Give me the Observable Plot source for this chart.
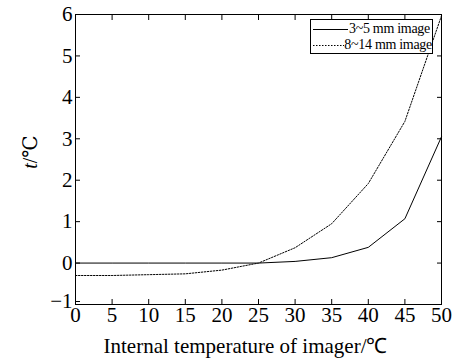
<!DOCTYPE html>
<html><head><meta charset="utf-8">
<script src="https://cdn.jsdelivr.net/npm/d3@7"></script>
<script src="https://cdn.jsdelivr.net/npm/@observablehq/plot@0.6"></script>
<style>
body{margin:0;background:#fff;}
#wrap{position:relative;width:463px;height:360px;font-family:"Liberation Serif","DejaVu Serif",serif;}
#wrap svg text{font-family:"Liberation Serif",serif;font-variant:normal !important;}
#legend{position:absolute;left:310px;top:19px;width:123px;height:35px;border:1px solid #000;background:#fff;box-sizing:border-box;font-size:14px;line-height:16px;padding-top:1px;}
#legend div{display:flex;align-items:center;height:16px;white-space:nowrap;letter-spacing:-0.3px;}
#ylab{position:absolute;left:10px;top:140px;transform:rotate(-90deg);transform-origin:center;font-size:20px;width:40px;text-align:center;}
</style></head>
<body><div id="wrap"></div>
<script>
const temps = [0,5,10,15,20,25,30,35,40,45,50];
const mw35 = [0,0,0,0,0,0,0.04,0.13,0.38,1.07,3.05];
const lw814 = [-0.3,-0.3,-0.28,-0.26,-0.17,0,0.37,0.95,1.92,3.42,5.97];
const seriesNames = ["3~5 mm image","8~14 mm image"];
const xTicks = [0,5,10,15,20,25,30,35,40,45,50];
const yTicks = [-1,0,1,2,3,4,5,6];
const xLabel = "Internal temperature of imager/℃";

const data = [];
temps.forEach((t,i)=>{data.push({t,v:mw35[i],s:seriesNames[0]});});
temps.forEach((t,i)=>{data.push({t,v:lw814[i],s:seriesNames[1]});});

const fs = 21;
const ff = "Liberation Serif";
const chart = Plot.plot({
  width:463,height:360,
  marginLeft:75,marginRight:22,marginTop:14,marginBottom:56,
  style:{fontFamily:ff,fontSize:fs+"px",color:"#000",background:"#fff"},
  x:{domain:[0,50]},
  y:{domain:[-1,6]},
  marks:[
    Plot.frame({stroke:"#000",strokeWidth:1}),
    Plot.axisX(xTicks,{anchor:"bottom",tickSize:-5,tickPadding:8,fontSize:fs,fontFamily:ff,label:null}),
    Plot.text([xLabel],{frameAnchor:"bottom",text:d=>d,dy:48,dx:-13,fontSize:fs,fontFamily:ff,lineAnchor:"bottom",fill:"#000"}),
    Plot.axisX(xTicks,{anchor:"top",tickSize:-5,text:null,label:null}),
    Plot.axisY(yTicks.filter(v=>v!==-1),{anchor:"left",tickSize:-5,tickPadding:8,fontSize:fs,fontFamily:ff,label:null}),
    Plot.axisY(yTicks.filter(v=>v===-1),{anchor:"left",tickSize:-5,tickPadding:8,dy:-3,fontSize:fs,fontFamily:ff,label:null}),
    Plot.axisY(yTicks,{anchor:"right",tickSize:-5,text:null,label:null}),
    Plot.line(data.filter(d=>d.s===seriesNames[0]),{x:"t",y:"v",stroke:"#000",strokeWidth:1}),
    Plot.line(data.filter(d=>d.s===seriesNames[1]),{x:"t",y:"v",stroke:"#000",strokeWidth:1,strokeDasharray:"1.5,1.5"})
  ]
});
const wrap = document.getElementById("wrap");
wrap.appendChild(chart);
const leg = document.createElement("div");
leg.id="legend";
seriesNames.forEach((n,i)=>{
  const row=document.createElement("div");
  row.innerHTML=`<svg width="38" height="16"><line x1="2" x2="37" y1="8.5" y2="8.5" stroke="#000" stroke-width="1" ${i?'stroke-dasharray="1.5,1.5"':''}/></svg><span>${n}</span>`;
  leg.appendChild(row);
});
wrap.appendChild(leg);
const yl=document.createElement("div");
yl.id="ylab";
yl.innerHTML="<i>t</i>/℃";
wrap.appendChild(yl);
</script></body></html>
